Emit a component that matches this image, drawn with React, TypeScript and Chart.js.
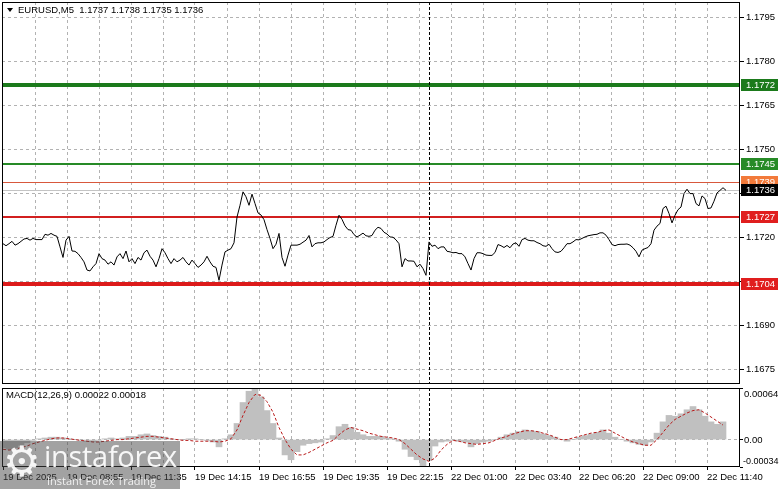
import React, { useEffect, useRef } from 'react';
import { Chart, registerables } from 'chart.js';

Chart.register(...registerables);

// ---------- texts ----------
const chartTitle = 'EURUSD,M5  1.1737 1.1738 1.1735 1.1736';
const macdTitle = 'MACD(12,26,9) 0.00022 0.00018';

// ---------- time axis (x in 5-minute bars) ----------
const timeLabels = [
  '19 Dec 2025', '19 Dec 08:55', '19 Dec 11:35', '19 Dec 14:15', '19 Dec 16:55', '19 Dec 19:35',
  '19 Dec 22:15', '22 Dec 01:00', '22 Dec 03:40', '22 Dec 06:20', '22 Dec 09:00', '22 Dec 11:40',
];
const labelStepBars = 32;
const gridStepBars = 16;
const visibleBars = 369;
const separatorBar = 213; // 22 Dec 00:00 (weekend gap)

// ---------- price pane ----------
const priceTicks = [1.1675, 1.169, 1.1705, 1.172, 1.1735, 1.175, 1.1765, 1.178, 1.1795];
const priceMin = 1.16699;
const priceMax = 1.18003;
const closeStepBars = 1.5;

const fridayCloses = [
  1.17178, 1.17171, 1.17178, 1.17186, 1.17173, 1.17178, 1.17186, 1.17194, 1.17196, 1.1719,
  1.17196, 1.17192, 1.17192, 1.17192, 1.1721, 1.17207, 1.17213, 1.17207, 1.17203, 1.17167,
  1.17131, 1.1719, 1.17203, 1.17153, 1.17152, 1.17144, 1.17131, 1.17116, 1.17088, 1.17085,
  1.17099, 1.1711, 1.17144, 1.17127, 1.17122, 1.17108, 1.17116, 1.17105, 1.17133, 1.17144,
  1.17127, 1.17153, 1.17116, 1.17127, 1.1711, 1.17131, 1.17122, 1.17147, 1.17156, 1.17135,
  1.17122, 1.17099, 1.17127, 1.17161, 1.17147, 1.17127, 1.1711, 1.17127, 1.17116, 1.17122,
  1.17131, 1.17116, 1.17105, 1.17122, 1.1711, 1.17097, 1.17105, 1.17116, 1.17135, 1.17116,
  1.17101, 1.17097, 1.17053, 1.17105, 1.1715, 1.17156, 1.17161, 1.17181, 1.17269, 1.17309,
  1.17355, 1.17338, 1.17309,
  1.17347, 1.17315, 1.17283, 1.17276, 1.1726, 1.17226, 1.17196, 1.17161, 1.17176, 1.17213,
  1.17131, 1.17101, 1.17139, 1.17173, 1.17173, 1.17173, 1.17176, 1.17183, 1.1719, 1.17206,
  1.17167, 1.17178, 1.17181, 1.17181, 1.17184, 1.17192, 1.17199, 1.17203, 1.17241, 1.17275,
  1.17261, 1.17239, 1.17226, 1.17224, 1.17209, 1.17201, 1.17207, 1.17214, 1.17205, 1.17203,
  1.17206, 1.17224, 1.17234, 1.1723, 1.17217, 1.17211, 1.17201, 1.172, 1.17191, 1.17178,
  1.17099, 1.17127, 1.17119, 1.17119, 1.17118, 1.17099, 1.17108, 1.17093, 1.1707,
];

const mondayCloses = [
  1.17184, 1.17169, 1.17173, 1.17161, 1.17167, 1.17167, 1.17152, 1.1715, 1.17147, 1.17148,
  1.17144, 1.17144, 1.17133, 1.1711, 1.17088, 1.17127, 1.17147, 1.17147, 1.17144, 1.17139,
  1.17138, 1.17138,
  1.17148, 1.17175, 1.17171, 1.17165, 1.17172, 1.17164, 1.17177, 1.17181, 1.17169, 1.17192,
  1.17196, 1.1719, 1.17188, 1.17188, 1.17182, 1.17178, 1.17171, 1.17169, 1.17176, 1.17161,
  1.1715, 1.17148, 1.17152, 1.17164, 1.17178, 1.17178, 1.17184, 1.17192, 1.17191, 1.17196,
  1.17201, 1.17205, 1.17207, 1.17209, 1.1721, 1.17215, 1.17215, 1.17207, 1.17192, 1.17175,
  1.17171, 1.17175, 1.17176, 1.17176, 1.17177, 1.17173, 1.17164, 1.17152, 1.17133, 1.17156,
  1.17161, 1.17165, 1.17178, 1.17224, 1.17238, 1.17247, 1.17298, 1.17306, 1.17281, 1.17249,
  1.17275, 1.17294, 1.17303, 1.17349, 1.17364, 1.17349, 1.17349, 1.17315, 1.17307, 1.17341,
  1.17332, 1.17298, 1.173, 1.17323, 1.17351, 1.1736, 1.17369, 1.1736,
];

// horizontal levels (values) and their look
const levelValues = [1.1772, 1.1745, 1.1739, 1.1736, 1.1727, 1.1704];
const levelStyles = [
  { line: '#1b7a1b', width: 4, box: '#1b7a1b', text: '#ffffff' },
  { line: '#268a26', width: 2, box: '#268a26', text: '#ffffff' },
  { line: '#d8583c', width: 1, box: '#f27a3a', text: '#ffffff' },
  { line: '#c4c4c4', width: 1, box: '#000000', text: '#ffffff' },
  { line: '#d21f1f', width: 2, box: '#e01e1e', text: '#ffffff' },
  { line: '#dc1a1a', width: 4, box: '#e01e1e', text: '#ffffff' },
];

// ---------- MACD pane (values in units of 0.00001) ----------
const macdUnit = 0.00001;
const macdStepBars = 3;
const macdMin = -0.00034;
const macdMax = 0.00064;

const macdHist = [
  -10, -12, -10, -7, -4, -1, 1, 2, 3, 3,
  2, 1, 0, -1, -2, -2, -1, 1, 2, 1,
  2, 4, 4, 6, 7, 5, 4, 3, 1, 0,
  0, 1, 1, 0, -1, -3, -9, 1, 6, 20,
  46, 60, 63, 53, 36, 20, 2, -19, -25, -15,
  -7, -5, -4, -3, 1, 5, 16, 19, 15, 9,
  6, 4, 4, 4, 2, 1, -2, -12, -21, -25,
  -33, -26, -8, -3, -2, -1, -2, -3, -9, -5,
  -3, -2, 0, 3, 6, 8, 10, 12, 11, 10,
  7, 5, 3, 0, -2, 0, 3, 5, 7, 9,
  12, 8, 3, 0, -2, -4, -6, -7, -3, 8,
  22, 30, 29, 32, 37, 41, 37, 29, 22, 19,
  22,
];

const macdSignal = [
  -12, -13, -12, -10, -8, -5, -3, -1, 1, 2,
  2, 1, 0, -1, -2, -3, -3, -2, -1, 0,
  0, 1, 2, 3, 4, 4, 3, 2, 1, 0,
  -1, -1, -2, -2, -2, -2, -3, -2, 1, 12,
  30, 46, 56, 55, 47, 34, 15, 0, -12, -19,
  -19, -16, -12, -8, -4, -1, 6, 12, 15, 13,
  11, 8, 6, 4, 3, 2, 0, -5, -12, -19,
  -24, -27, -23, -13, -6, -1, -2, -4, -5, -6,
  -5, -4, -1, 2, 4, 7, 9, 11, 11, 10,
  8, 6, 3, 0, 0, 2, 4, 6, 8, 9,
  11, 12, 8, 4, 0, -3, -5, -7, -7, 0,
  9, 18, 25, 29, 33, 36, 37, 33, 28, 23,
  18,
];

// ---------- look ----------
const FONT_FAMILY = '"Liberation Sans", Arial, sans-serif';
const FONT_SIZE = 9.5;
const GRID_COLOR = '#b2b2b2';
const W = 781;
const MAIN_H = 386;
const MACD_H = 103;
const AXIS_W = 41;

const gridBars: number[] = [];
for (let b = 0; b < visibleBars; b += gridStepBars) gridBars.push(b);

const canvasFont = `${FONT_SIZE}px ${FONT_FAMILY}`;

function drawFrame(ctx: CanvasRenderingContext2D, a: any) {
  ctx.save();
  ctx.strokeStyle = '#000';
  ctx.lineWidth = 1;
  ctx.setLineDash([]);
  ctx.strokeRect(a.left + 0.5, a.top + 0.5, a.right - a.left - 1, a.bottom - a.top - 1);
  ctx.restore();
}

function drawSeparator(chart: any) {
  const { ctx, chartArea: a, scales } = chart;
  const sx = Math.round(scales.x.getPixelForValue(separatorBar)) + 0.5;
  ctx.save();
  ctx.strokeStyle = '#000';
  ctx.lineWidth = 1;
  ctx.setLineDash([3, 2]);
  ctx.beginPath();
  ctx.moveTo(sx, a.top);
  ctx.lineTo(sx, a.bottom);
  ctx.stroke();
  ctx.restore();
}

const mainPlugin = {
  id: 'mainDecor',
  beforeDatasetsDraw(chart: any) {
    const { ctx, chartArea: a, scales } = chart;
    ctx.save();
    levelValues.forEach((v, i) => {
      const st = levelStyles[i];
      const py = scales.y.getPixelForValue(v);
      const yy = st.width % 2 ? Math.round(py) + 0.5 : Math.round(py);
      ctx.strokeStyle = st.line;
      ctx.lineWidth = st.width;
      ctx.beginPath();
      ctx.moveTo(a.left, yy);
      ctx.lineTo(a.right, yy);
      ctx.stroke();
    });
    ctx.restore();
    drawSeparator(chart);
  },
  afterDraw(chart: any) {
    const { ctx, chartArea: a, scales } = chart;
    drawFrame(ctx, a);
    ctx.save();
    ctx.font = canvasFont;
    ctx.textBaseline = 'middle';
    ctx.textAlign = 'left';
    levelValues.forEach((v, i) => {
      const st = levelStyles[i];
      const py = Math.round(scales.y.getPixelForValue(v));
      ctx.fillStyle = st.box;
      ctx.fillRect(a.right + 1, py - 6, 37, 12);
      ctx.fillStyle = st.text;
      ctx.fillText(v.toFixed(4), a.right + 6, py + 0.5);
    });
    // title
    ctx.fillStyle = '#000';
    ctx.beginPath();
    ctx.moveTo(7, 8);
    ctx.lineTo(13, 8);
    ctx.lineTo(10, 12);
    ctx.closePath();
    ctx.fill();
    ctx.fillText(chartTitle, 18, 10.5);
    ctx.restore();
  },
};

const macdPlugin = {
  id: 'macdDecor',
  afterDatasetsDraw(chart: any) {
    drawSeparator(chart);
  },
  afterDraw(chart: any) {
    const { ctx, chartArea: a, scales } = chart;
    drawFrame(ctx, a);
    ctx.save();
    ctx.font = canvasFont;
    ctx.fillStyle = '#000';
    ctx.textBaseline = 'middle';
    ctx.textAlign = 'left';
    ctx.fillText(macdTitle, 6, a.top + 7.5);
    const lx = a.right + 4;
    ctx.fillText(macdMax.toFixed(5), lx, a.top + 6);
    ctx.fillText('0.00', lx, scales.y.getPixelForValue(0) + 1);
    ctx.font = `9px ${FONT_FAMILY}`;
    ctx.fillText(macdMin.toFixed(5), a.right + 3, a.bottom - 5);
    ctx.restore();
  },
};

function xScaleBase(showLabels: boolean) {
  return {
    type: 'linear' as const,
    min: -0.5,
    max: visibleBars - 0.5,
    offset: false,
    afterBuildTicks: (s: any) => {
      s.ticks = gridBars.map((v) => ({ value: v }));
    },
    afterFit: (s: any) => {
      s.height = showLabels ? MACD_H - 81 : 0;
      s.paddingLeft = 0;
      s.paddingRight = 0;
    },
    border: { display: false, dash: [3, 3] },
    grid: {
      offset: false,
      color: (c: any) => (c.tick && c.tick.value === 0 ? 'rgba(0,0,0,0)' : GRID_COLOR),
      lineWidth: 1,
      drawTicks: showLabels,
      tickLength: 3,
      tickColor: (c: any) =>
        c.tick && c.tick.value % labelStepBars === 0 ? '#000' : 'rgba(0,0,0,0)',
      tickBorderDash: [],
    },
    ticks: {
      display: showLabels,
      autoSkip: false,
      maxRotation: 0,
      minRotation: 0,
      align: 'start' as const,
      padding: 2,
      color: '#000',
      font: { family: FONT_FAMILY, size: FONT_SIZE },
      callback: (v: any) => {
        const n = Number(v);
        return n % labelStepBars === 0 ? timeLabels[n / labelStepBars] ?? '' : '';
      },
    },
  };
}

export default function App() {
  const mainRef = useRef<HTMLCanvasElement | null>(null);
  const macdRef = useRef<HTMLCanvasElement | null>(null);

  useEffect(() => {
    if (!mainRef.current || !macdRef.current) return;
    const closes = [...fridayCloses, ...mondayCloses];

    const main = new Chart(mainRef.current, {
      type: 'line',
      data: {
        datasets: [
          {
            data: closes.map((v, i) => ({ x: i * closeStepBars, y: v })),
            borderColor: '#000',
            borderWidth: 1,
            pointRadius: 0,
            tension: 0,
            fill: false,
          },
        ],
      },
      options: {
        animation: false,
        responsive: false,
        maintainAspectRatio: false,
        devicePixelRatio: 1,
        events: [],
        layout: { padding: { left: 2, top: 2, right: 0, bottom: 2 } },
        plugins: { legend: { display: false }, tooltip: { enabled: false } },
        scales: {
          x: xScaleBase(false) as any,
          y: {
            type: 'linear',
            position: 'right',
            min: priceMin,
            max: priceMax,
            afterBuildTicks: (s: any) => {
              s.ticks = priceTicks.map((v) => ({ value: v }));
            },
            afterFit: (s: any) => {
              s.width = AXIS_W;
              s.paddingTop = 0;
              s.paddingBottom = 0;
            },
            border: { display: false, dash: [3, 3] },
            grid: {
              color: GRID_COLOR,
              lineWidth: 1,
              drawTicks: true,
              tickLength: 4,
              tickColor: '#000',
              tickBorderDash: [],
            },
            ticks: {
              padding: 2,
              color: '#000',
              font: { family: FONT_FAMILY, size: FONT_SIZE },
              callback: (v: any) => {
                const n = Number(v);
                const hidden = levelValues.some((l) => Math.abs(l - n) < 0.0003);
                return hidden ? '' : n.toFixed(4);
              },
            },
          },
        },
      },
      plugins: [mainPlugin],
    } as any);

    const macd = new Chart(macdRef.current, {
      type: 'bar',
      data: {
        datasets: [
          {
            type: 'line',
            order: 0,
            data: macdSignal.map((v, i) => ({ x: i * macdStepBars, y: v * macdUnit })),
            borderColor: '#b81a1a',
            borderWidth: 1,
            borderDash: [3, 2],
            pointRadius: 0,
            tension: 0,
            fill: false,
          },
          {
            type: 'bar',
            order: 1,
            data: macdHist.map((v, i) => ({ x: i * macdStepBars, y: v * macdUnit })),
            backgroundColor: '#c0c0c0',
            borderWidth: 0,
            barPercentage: 1,
            categoryPercentage: 1,
          },
        ],
      },
      options: {
        animation: false,
        responsive: false,
        maintainAspectRatio: false,
        devicePixelRatio: 1,
        events: [],
        layout: { padding: { left: 2, top: 2, right: 0, bottom: 0 } },
        plugins: { legend: { display: false }, tooltip: { enabled: false } },
        scales: {
          x: xScaleBase(true) as any,
          y: {
            type: 'linear',
            position: 'right',
            min: macdMin,
            max: macdMax,
            afterBuildTicks: (s: any) => {
              s.ticks = [macdMin, 0, macdMax].map((v) => ({ value: v }));
            },
            afterFit: (s: any) => {
              s.width = AXIS_W;
              s.paddingTop = 0;
              s.paddingBottom = 0;
            },
            border: { display: false, dash: [3, 3] },
            grid: {
              color: (c: any) => (c.tick && c.tick.value === 0 ? GRID_COLOR : 'rgba(0,0,0,0)'),
              lineWidth: 1,
              drawTicks: true,
              tickLength: 3,
              tickColor: '#000',
              tickBorderDash: [],
            },
            ticks: { display: false },
          },
        },
      },
      plugins: [macdPlugin],
    } as any);

    return () => {
      main.destroy();
      macd.destroy();
    };
  }, []);

  return (
    <div
      style={{
        position: 'absolute',
        left: 0,
        top: 0,
        width: W,
        height: MAIN_H + MACD_H,
        background: '#fff',
        overflow: 'hidden',
      }}
    >
      <canvas
        ref={mainRef}
        width={W}
        height={MAIN_H}
        style={{ position: 'absolute', left: 0, top: 0, width: W, height: MAIN_H }}
      />
      <canvas
        ref={macdRef}
        width={W}
        height={MACD_H}
        style={{ position: 'absolute', left: 0, top: MAIN_H, width: W, height: MACD_H }}
      />
      <div
        style={{
          position: 'absolute',
          left: 0,
          top: 441,
          width: 180,
          height: 48,
          background: 'rgba(70,70,70,0.5)',
          color: 'rgba(255,255,255,0.92)',
          fontFamily: '"Open Sans", "DejaVu Sans", sans-serif',
          pointerEvents: 'none',
        }}
      >
        <div
          style={{
            position: 'absolute',
            left: 3,
            top: -1,
            fontSize: 42,
            lineHeight: '44px',
            fontFamily: '"DejaVu Sans", sans-serif',
          }}
        >
          ⚙
        </div>
        <div
          style={{
            position: 'absolute',
            left: 44,
            top: -4,
            fontSize: 29,
            lineHeight: '38px',
            letterSpacing: -0.3,
          }}
        >
          instaforex
        </div>
        <div
          style={{
            position: 'absolute',
            left: 47,
            top: 33,
            fontSize: 11,
            lineHeight: '13px',
            color: 'rgba(255,255,255,0.85)',
          }}
        >
          Instant Forex Trading
        </div>
      </div>
    </div>
  );
}
